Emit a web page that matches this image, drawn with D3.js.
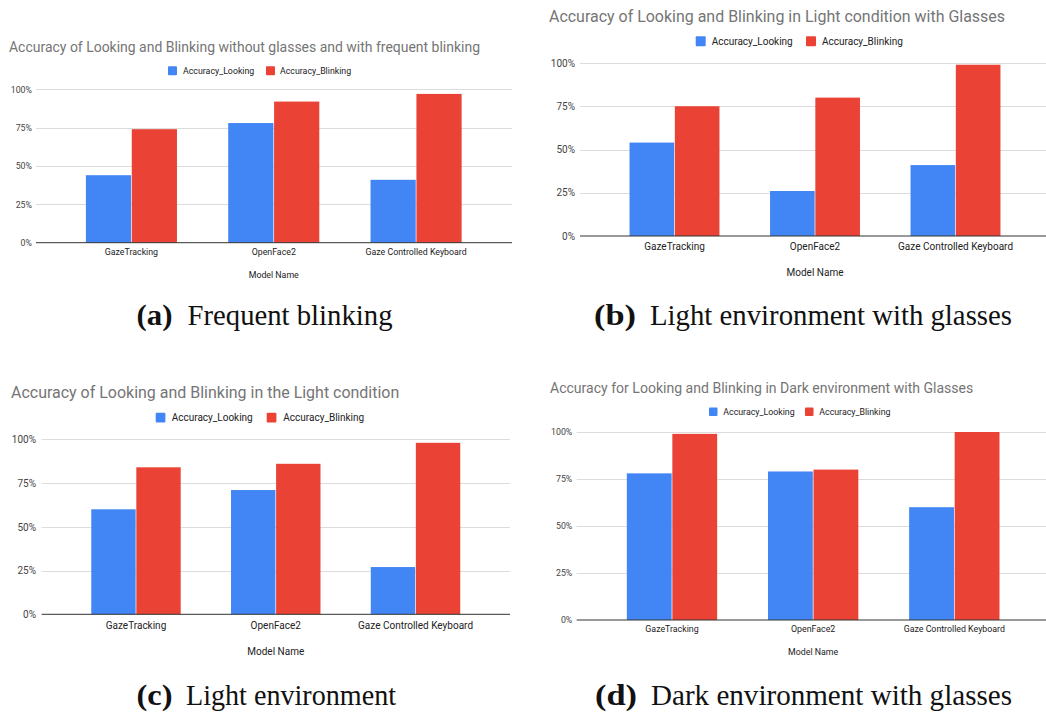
<!DOCTYPE html>
<html>
<head>
<meta charset="utf-8">
<script src="https://cdn.jsdelivr.net/npm/d3@7"></script>
<style>
  html, body { margin: 0; padding: 0; background: #fff; }
  svg { display: block; }
</style>
</head>
<body>
<svg id="fig" width="1046" height="716"></svg>
<script>
// ---- data ----
const categories = ["GazeTracking", "OpenFace2", "Gaze Controlled Keyboard"];
const seriesNames = ["Accuracy_Looking", "Accuracy_Blinking"];
const yTicks = [0, 25, 50, 75, 100];
const axisTitle = "Model Name";

const chartTitles = [
  "Accuracy of Looking and Blinking without glasses and with frequent blinking",
  "Accuracy of Looking and Blinking in Light condition with Glasses",
  "Accuracy of Looking and Blinking in the Light condition",
  "Accuracy for Looking and Blinking in Dark environment with Glasses"
];
const captionTags = ["(a)", "(b)", "(c)", "(d)"];
const captionTexts = [
  "Frequent blinking",
  "Light environment with glasses",
  "Light environment",
  "Dark environment with glasses"
];

// accuracy in percent, one entry per category
const lookingFrequentBlink = [44, 78, 41];
const blinkingFrequentBlink = [74, 92, 97];
const lookingLightGlasses = [54, 26, 41];
const blinkingLightGlasses = [75, 80, 99];
const lookingLight = [60, 71, 27];
const blinkingLight = [84, 86, 98];
const lookingDarkGlasses = [78, 79, 60];
const blinkingDarkGlasses = [99, 80, 100];

const panelSeries = [
  [lookingFrequentBlink, blinkingFrequentBlink],
  [lookingLightGlasses, blinkingLightGlasses],
  [lookingLight, blinkingLight],
  [lookingDarkGlasses, blinkingDarkGlasses]
];

// ---- styling / layout ----
const colors = ["#4285F4", "#EA4335"];
const layouts = [
  { // (a)
    titleX: 9, titleY: 47, titleSize: 14, titleW: 471,
    legY: 70.7, legSq: 9, legX: [168, 266], legTxtX: [183, 280], font: 8.8,
    gridX: [36, 512], bandX: [60.25, 487.25], y0: 242.7, y100: 89.3, tickX: 32,
    catY: 251.7, axTitleY: 275,
    capTagX: 136.5, capTagW: 36, capTextX: 187.5, capTextW: 205, capY: 325
  },
  { // (b)
    titleX: 549, titleY: 16, titleSize: 16, titleW: 456,
    legY: 41.3, legSq: 10, legX: [695.7, 806], legTxtX: [711.7, 822], font: 10,
    gridX: [580, 1046], bandX: [604.25, 1025.75], y0: 236, y100: 63, tickX: 575,
    catY: 246.7, axTitleY: 272.7,
    capTagX: 594, capTagW: 42, capTextX: 650, capTextW: 362, capY: 325
  },
  { // (c)
    titleX: 11, titleY: 392.3, titleSize: 16, titleW: 388.3,
    legY: 417.7, legSq: 9.7, legX: [155.7, 266.7], legTxtX: [171.7, 283.3], font: 10,
    gridX: [41.7, 510], bandX: [66.1, 485.4], y0: 614.3, y100: 439.3, tickX: 36,
    catY: 625, axTitleY: 651,
    capTagX: 136.5, capTagW: 36, capTextX: 186, capTextW: 210, capY: 705
  },
  { // (d)
    titleX: 550, titleY: 388.3, titleSize: 14.5, titleW: 423.3,
    legY: 411.7, legSq: 8.5, legX: [709, 805], legTxtX: [723.3, 819.3], font: 8.8,
    gridX: [576.7, 1046], bandX: [601.4, 1024.9], y0: 620, y100: 432, tickX: 572.3,
    catY: 629.3, axTitleY: 652,
    capTagX: 595, capTagW: 42, capTextX: 651, capTextW: 361, capY: 705
  }
];

const svg = d3.select("#fig");
const sans = "Roboto, Arial, sans-serif";
const serif = "'Liberation Serif', 'DejaVu Serif', serif";

function drawPanel(i) {
  const L = layouts[i];
  const values = panelSeries[i];
  const g = svg.append("g").attr("class", "panel-" + i);

  // title
  g.append("text")
    .attr("x", L.titleX).attr("y", L.titleY).attr("dy", "0.35em")
    .attr("font-family", sans).attr("font-size", L.titleSize)
    .attr("fill", "#757575")
    .attr("textLength", L.titleW).attr("lengthAdjust", "spacingAndGlyphs")
    .text(chartTitles[i]);

  // legend
  seriesNames.forEach((name, k) => {
    g.append("rect")
      .attr("x", L.legX[k]).attr("y", L.legY - L.legSq / 2)
      .attr("width", L.legSq).attr("height", L.legSq)
      .attr("rx", 1)
      .attr("fill", colors[k]);
    g.append("text")
      .attr("x", L.legTxtX[k]).attr("y", L.legY).attr("dy", "0.35em")
      .attr("font-family", sans).attr("font-size", L.font)
      .attr("fill", "#222")
      .text(name);
  });

  // scales
  const y = d3.scaleLinear().domain([0, 100]).range([L.y0, L.y100]);
  const x0 = d3.scaleBand().domain(categories).range(L.bandX).padding(0);
  const bw = x0.bandwidth();
  const x1 = d3.scaleBand().domain(seriesNames)
    .range([bw * 0.18, bw * 0.82]).paddingInner(0.015);

  // gridlines
  g.append("g").selectAll("line")
    .data(yTicks.filter(t => t > 0))
    .join("line")
    .attr("x1", L.gridX[0]).attr("x2", L.gridX[1])
    .attr("y1", d => Math.round(y(d)) + 0.5).attr("y2", d => Math.round(y(d)) + 0.5)
    .attr("stroke", "#dcdcdc").attr("stroke-width", 1);

  // y axis tick labels
  const yAxis = d3.axisLeft(y).tickValues(yTicks).tickFormat(d => d + "%").tickSize(0).tickPadding(0);
  const ya = g.append("g").attr("transform", `translate(${L.tickX},0)`).call(yAxis);
  ya.select(".domain").remove();
  ya.selectAll("text")
    .attr("font-family", sans).attr("font-size", L.font).attr("fill", "#444");

  // bars
  const groups = g.append("g").selectAll("g")
    .data(categories)
    .join("g")
    .attr("transform", d => `translate(${x0(d)},0)`);
  groups.selectAll("rect")
    .data((c, ci) => seriesNames.map((s, k) => ({ s, k, v: values[k][ci] })))
    .join("rect")
    .attr("x", d => x1(d.s))
    .attr("width", x1.bandwidth())
    .attr("y", d => y(d.v))
    .attr("height", d => y(0) - y(d.v))
    .attr("fill", d => colors[d.k]);

  // baseline
  g.append("line")
    .attr("x1", L.gridX[0]).attr("x2", L.gridX[1])
    .attr("y1", y(0)).attr("y2", y(0))
    .attr("stroke", "#333").attr("stroke-width", 1);

  // x axis category labels
  const xAxis = d3.axisBottom(x0).tickSize(0).tickPadding(0);
  const xa = g.append("g").attr("transform", `translate(0,${L.catY})`).call(xAxis);
  xa.select(".domain").remove();
  xa.selectAll("text")
    .attr("y", 0).attr("dy", "0.35em")
    .attr("font-family", sans).attr("font-size", L.font).attr("fill", "#222");

  // axis title
  g.append("text")
    .attr("x", (L.bandX[0] + L.bandX[1]) / 2).attr("y", L.axTitleY).attr("dy", "0.35em")
    .attr("text-anchor", "middle")
    .attr("font-family", sans).attr("font-size", L.font).attr("fill", "#222")
    .text(axisTitle);

  // sub-figure caption
  g.append("text")
    .attr("x", L.capTagX).attr("y", L.capY)
    .attr("font-family", serif).attr("font-size", 29).attr("font-weight", "bold")
    .attr("fill", "#111")
    .attr("textLength", L.capTagW).attr("lengthAdjust", "spacingAndGlyphs")
    .text(captionTags[i]);
  g.append("text")
    .attr("x", L.capTextX).attr("y", L.capY)
    .attr("font-family", serif).attr("font-size", 29)
    .attr("fill", "#111")
    .attr("textLength", L.capTextW).attr("lengthAdjust", "spacingAndGlyphs")
    .text(captionTexts[i]);
}

[0, 1, 2, 3].forEach(drawPanel);
</script>
</body>
</html>
